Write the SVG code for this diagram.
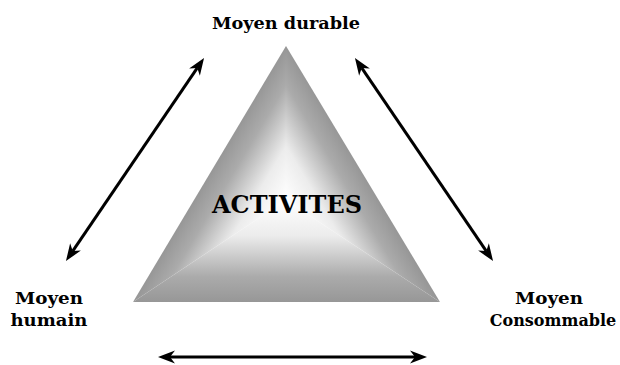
<svg xmlns="http://www.w3.org/2000/svg" width="620" height="365" viewBox="0 0 620 365">
  <style>
    .lbl { font-family: "DejaVu Serif", "Liberation Serif", serif; font-weight: bold; font-size: 17.5px; fill: #000; }
    .lbl-sm { font-size: 16px; }
    .title { font-family: "DejaVu Serif", "Liberation Serif", serif; font-weight: bold; font-size: 24.5px; fill: #000; }
    .link { fill: none; stroke: #000; stroke-width: 3; marker-start: url(#head); marker-end: url(#head); }
  </style>
  <defs>
    <!-- bevel shading: each face fades from the bright centre to grey at its edge -->
    <linearGradient id="faceBottom" gradientUnits="userSpaceOnUse" x1="286" y1="200" x2="286" y2="302">
      <stop offset="0" stop-color="#ffffff"/>
      <stop offset="0.35" stop-color="#ececec"/>
      <stop offset="0.75" stop-color="#ababab"/>
      <stop offset="1" stop-color="#979797"/>
    </linearGradient>
    <linearGradient id="faceLeft" gradientUnits="userSpaceOnUse" x1="286" y1="200" x2="218.2" y2="159.5">
      <stop offset="0" stop-color="#ffffff"/>
      <stop offset="0.35" stop-color="#ececec"/>
      <stop offset="0.75" stop-color="#ababab"/>
      <stop offset="1" stop-color="#979797"/>
    </linearGradient>
    <linearGradient id="faceRight" gradientUnits="userSpaceOnUse" x1="286" y1="200" x2="353.8" y2="159.5">
      <stop offset="0" stop-color="#ffffff"/>
      <stop offset="0.35" stop-color="#ececec"/>
      <stop offset="0.75" stop-color="#ababab"/>
      <stop offset="1" stop-color="#979797"/>
    </linearGradient>
    <marker id="head" markerUnits="userSpaceOnUse" orient="auto-start-reverse" refX="0" refY="0" markerWidth="20" markerHeight="16" viewBox="-6 -8 20 16" overflow="visible">
      <path d="M12,0 L-5,-6.5 L0,0 L-5,6.5 Z" fill="#000"/>
    </marker>
  </defs>

  <g id="activites">
    <polygon points="286,200 133,302 440,302" fill="url(#faceBottom)"/>
    <polygon points="286,200 286,46 133,302" fill="url(#faceLeft)"/>
    <polygon points="286,200 440,302 286,46" fill="url(#faceRight)"/>
    <text class="title" x="287" y="213" text-anchor="middle" textLength="150" lengthAdjust="spacingAndGlyphs">ACTIVITES</text>
  </g>

  <g id="moyen-durable">
    <text class="lbl" x="286" y="29" text-anchor="middle" textLength="148" lengthAdjust="spacingAndGlyphs">Moyen durable</text>
  </g>

  <g id="moyen-humain">
    <text class="lbl" x="49" y="304" text-anchor="middle" textLength="68" lengthAdjust="spacingAndGlyphs">Moyen</text>
    <text class="lbl" x="49" y="326" text-anchor="middle" textLength="77" lengthAdjust="spacingAndGlyphs">humain</text>
  </g>

  <g id="moyen-consommable">
    <text class="lbl" x="549" y="304" text-anchor="middle" textLength="68" lengthAdjust="spacingAndGlyphs">Moyen</text>
    <text class="lbl lbl-sm" x="553" y="326" text-anchor="middle">Consommable</text>
  </g>

  <g id="connectors">
    <path class="link" d="M72.7,251.1 L197.3,67.9"/>
    <path class="link" d="M361.7,67.9 L486.3,251.1"/>
    <path class="link" d="M170,357 L415,357"/>
  </g>
</svg>
